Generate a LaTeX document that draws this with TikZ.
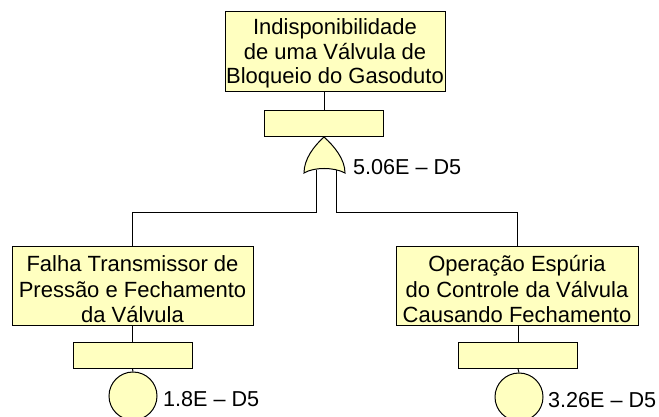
\documentclass[tikz,border=0pt]{standalone}
\usepackage{fontspec}
\setmainfont{Liberation Sans}
\definecolor{ftfill}{RGB}{255,255,192}
\begin{document}
\begin{tikzpicture}[x=1pt,y=1pt,
  evbox/.style={draw=black, fill=ftfill, line width=1pt, minimum width=#1, minimum height=79pt, inner sep=0pt},
  evtext/.style={anchor=north, inner sep=0pt, align=center, font=\fontsize{22}{25.5}\selectfont},
  gatebar/.style={draw=black, fill=ftfill, line width=1pt, minimum width=119pt, minimum height=26pt, inner sep=0pt},
  basic/.style={draw=black, fill=ftfill, line width=1pt, circle, minimum size=48pt, inner sep=0pt},
  prob/.style={anchor=base west, inner sep=0pt, font=\fontsize{21.6}{25}\selectfont},
  conn/.style={draw=black, line width=1pt}]
\useasboundingbox (0,0) rectangle (659,417);
\fill[white] (0,0) rectangle (659,417);

% top event
\node[evbox=220pt, minimum height=80pt] (top) at (335,365) {};
\node[evtext, font=\fontsize{22}{24.6}\selectfont] (toptext) at ([yshift=-7pt]top.north) {Indisponibilidade\\ de uma Válvula de\\Bloqueio do Gasoduto};
\node[gatebar] (topbar) at (324,293) {};
\draw[conn] (top.south -| topbar.north) -- (topbar.north);

% OR gate
\coordinate (apex) at (324,280);
\coordinate (gl) at (316,247);
\coordinate (gr) at (336,247);
\coordinate (jl) at (316,204);
\coordinate (jr) at (336,204);

% left event
\node[evbox=241pt] (left) at (132.5,130.5) {};
\node[evtext] (lefttext) at ([yshift=-9pt]left.north) {Falha Transmissor de\\Pressão e Fechamento\\da Válvula};
\node[gatebar] (leftbar) at (132.5,61.5) {};
\node[basic] (leftc) at (133,21) {};
\node[prob] (lp) at (163,10.3) {1.8E – D5};

% right event
\node[evbox=242pt] (right) at (517,130.5) {};
\node[evtext] (righttext) at ([yshift=-9pt]right.north) {Operação Espúria\\do Controle da Válvula\\Causando Fechamento};
\node[gatebar] (rightbar) at (518,61.5) {};
\node[basic] (rightc) at (519,20) {};
\node[prob] (rp) at (548,9.5) {3.26E – D5};

% connectors
\draw[conn] (gl) -- (jl) -- (jl -| left.north) -- (left.north);
\draw[conn] (gr) -- (jr) -- (jr -| right.north) -- (right.north);
\draw[conn] (left.south -| leftbar.north) -- (leftbar.north);
\draw[conn] (leftbar.south) -- (leftc.north);
\draw[conn] (right.south -| rightbar.north) -- (rightbar.north);
\draw[conn] (rightbar.south) -- (rightc.north);

% gate shape
\draw[line width=1pt, fill=ftfill] (apex) .. controls (314,271) and (304,258) .. (304,244)
  .. controls (314,250) and (334,250) .. (345,244)
  .. controls (345,258) and (334,271) .. (apex) -- cycle;
\node[prob] (gp) at (353,242) {5.06E – D5};
\end{tikzpicture}
\end{document}
